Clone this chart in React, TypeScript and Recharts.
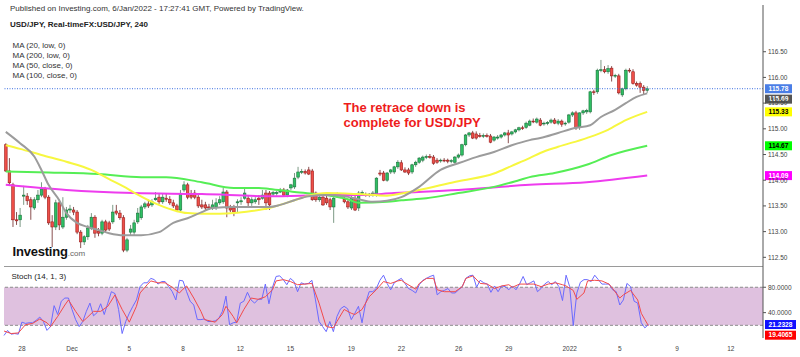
import {
  Bar,
  ComposedChart,
  Line,
  ReferenceArea,
  ReferenceLine,
  XAxis,
  YAxis
} from "recharts";

// USD/JPY 4H candles: open, high, low, close
type Candle = [number, number, number, number];

const candles: Candle[] = [
  [114.69, 114.72, 114.16, 114.18], [114.18, 114.43, 113.91, 113.95], [113.91, 113.95, 113.09, 113.23],
  [113.23, 113.38, 113.13, 113.21], [113.23, 113.46, 113.09, 113.32], [113.69, 113.89, 113.52, 113.71],
  [113.69, 113.75, 113.52, 113.60], [113.62, 113.67, 113.23, 113.48], [113.46, 113.67, 113.42, 113.62],
  [113.62, 113.81, 113.56, 113.71], [113.71, 113.96, 113.67, 113.83], [113.83, 113.87, 113.63, 113.67],
  [113.67, 113.71, 113.13, 113.17], [113.19, 113.32, 112.70, 113.09], [113.09, 113.62, 113.03, 113.56],
  [113.56, 113.62, 113.03, 113.13], [113.09, 113.67, 113.05, 113.28], [113.28, 113.48, 113.23, 113.42],
  [113.42, 113.52, 113.36, 113.44], [113.42, 113.48, 113.32, 113.38], [113.38, 113.42, 112.95, 112.99],
  [112.99, 113.03, 112.68, 112.80], [112.80, 112.93, 112.74, 112.90], [112.90, 113.13, 112.84, 113.07],
  [113.07, 113.36, 113.03, 113.28], [113.28, 113.32, 112.88, 112.97], [113.01, 113.07, 112.91, 112.97],
  [112.97, 113.23, 112.93, 113.19], [113.19, 113.23, 112.99, 113.03], [113.17, 113.21, 113.01, 113.05],
  [113.19, 113.52, 113.15, 113.38], [113.40, 113.52, 113.32, 113.36], [113.36, 113.42, 113.23, 113.27],
  [113.27, 113.32, 112.60, 112.64], [112.64, 112.88, 112.60, 112.84], [112.99, 113.13, 112.93, 113.05],
  [112.99, 113.23, 112.93, 113.17],
  [113.19, 113.46, 113.15, 113.36], [113.27, 113.52, 113.23, 113.48], [113.48, 113.58, 113.44, 113.54],
  [113.54, 113.62, 113.46, 113.50], [113.52, 113.63, 113.48, 113.58], [113.62, 113.77, 113.60, 113.65],
  [113.67, 113.75, 113.54, 113.58], [113.58, 113.75, 113.54, 113.67], [113.65, 113.75, 113.58, 113.63],
  [113.63, 113.69, 113.52, 113.56], [113.56, 113.62, 113.46, 113.50], [113.50, 113.54, 113.38, 113.42],
  [113.42, 113.81, 113.38, 113.73], [113.81, 113.98, 113.77, 113.91], [113.91, 113.95, 113.63, 113.67],
  [113.71, 113.81, 113.63, 113.67], [113.75, 113.81, 113.63, 113.67], [113.67, 113.71, 113.46, 113.50],
  [113.52, 113.62, 113.44, 113.48], [113.52, 113.58, 113.40, 113.46], [113.48, 113.54, 113.42, 113.46],
  [113.46, 113.62, 113.42, 113.52], [113.48, 113.65, 113.42, 113.56], [113.56, 113.69, 113.52, 113.62],
  [113.58, 113.85, 113.54, 113.77], [113.77, 113.81, 113.28, 113.46], [113.46, 113.52, 113.38, 113.42],
  [113.46, 113.52, 113.30, 113.38], [113.56, 113.63, 113.38, 113.58], [113.58, 113.67, 113.52, 113.60],
  [113.65, 113.85, 113.62, 113.75], [113.65, 113.71, 113.48, 113.56], [113.56, 113.67, 113.50, 113.62],
  [113.58, 113.67, 113.54, 113.62], [113.65, 113.71, 113.52, 113.62], [113.65, 113.81, 113.62, 113.71],
  [113.75, 113.81, 113.42, 113.56],
  [113.75, 113.79, 113.42, 113.52], [113.73, 113.79, 113.69, 113.76], [113.74, 113.79, 113.70, 113.76],
  [113.77, 113.85, 113.75, 113.81], [113.81, 113.85, 113.69, 113.71], [113.71, 113.83, 113.67, 113.81],
  [113.85, 113.93, 113.81, 113.91], [113.87, 114.14, 113.83, 114.04], [114.06, 114.26, 114.02, 114.16],
  [114.16, 114.22, 114.12, 114.17], [114.17, 114.21, 114.11, 114.14], [114.20, 114.26, 114.10, 114.12],
  [114.18, 114.22, 113.60, 113.62], [113.75, 113.78, 113.58, 113.62], [113.62, 113.71, 113.58, 113.67],
  [113.67, 113.72, 113.50, 113.52], [113.65, 113.70, 113.52, 113.56], [113.62, 113.66, 113.42, 113.48],
  [113.48, 113.69, 113.17, 113.65], [113.71, 113.76, 113.66, 113.70], [113.70, 113.74, 113.65, 113.71],
  [113.63, 113.69, 113.55, 113.58], [113.58, 113.62, 113.44, 113.48], [113.46, 113.70, 113.42, 113.65],
  [113.65, 113.73, 113.40, 113.42], [113.46, 113.79, 113.40, 113.75], [113.75, 113.80, 113.71, 113.76],
  [113.72, 113.76, 113.68, 113.71], [113.71, 113.75, 113.67, 113.73], [113.71, 113.79, 113.68, 113.75],
  [113.71, 114.06, 113.68, 114.04], [114.14, 114.20, 114.08, 114.12], [114.14, 114.18, 113.98, 114.00],
  [114.00, 114.16, 113.97, 114.14], [114.16, 114.22, 114.12, 114.20], [114.16, 114.28, 114.12, 114.26],
  [114.26, 114.39, 114.22, 114.35], [114.34, 114.39, 114.18, 114.20], [114.20, 114.25, 114.14, 114.16],
  [114.20, 114.24, 114.10, 114.14], [114.16, 114.32, 114.12, 114.30], [114.30, 114.38, 114.26, 114.35],
  [114.35, 114.45, 114.32, 114.43], [114.39, 114.48, 114.35, 114.45], [114.45, 114.50, 114.41, 114.46],
  [114.46, 114.51, 114.42, 114.45], [114.45, 114.49, 114.30, 114.33], [114.39, 114.43, 114.32, 114.35],
  [114.38, 114.42, 114.34, 114.39], [114.39, 114.43, 114.35, 114.38], [114.39, 114.42, 114.33, 114.37],
  [114.37, 114.41, 114.33, 114.38], [114.35, 114.47, 114.32, 114.45], [114.45, 114.52, 114.42, 114.49],
  [114.49, 114.71, 114.46, 114.69], [114.69, 114.90, 114.66, 114.88], [114.88, 114.94, 114.84, 114.92],
  [114.92, 114.96, 114.80, 114.82], [114.90, 114.95, 114.79, 114.82], [114.87, 114.92, 114.83, 114.85],
  [114.86, 114.91, 114.82, 114.87], [114.87, 114.91, 114.83, 114.86], [114.86, 114.90, 114.72, 114.74],
  [114.78, 114.86, 114.75, 114.84], [114.82, 114.88, 114.79, 114.84], [114.84, 114.90, 114.81, 114.88],
  [114.88, 114.94, 114.85, 114.92], [114.92, 114.98, 114.72, 114.88], [114.90, 114.96, 114.87, 114.94],
  [114.94, 115.00, 114.91, 114.98], [114.98, 115.04, 114.95, 115.02], [115.02, 115.06, 114.98, 115.01],
  [115.03, 115.14, 115.00, 115.11],
  [115.07, 115.18, 115.05, 115.15], [115.15, 115.20, 115.11, 115.14], [115.13, 115.22, 115.10, 115.19],
  [115.17, 115.21, 115.05, 115.07], [115.10, 115.14, 115.06, 115.11], [115.11, 115.15, 115.07, 115.12],
  [115.13, 115.20, 115.10, 115.17], [115.17, 115.21, 115.09, 115.11], [115.11, 115.19, 115.07, 115.15],
  [115.15, 115.18, 115.04, 115.09], [115.10, 115.14, 115.06, 115.11], [115.13, 115.29, 115.10, 115.27],
  [115.27, 115.34, 115.23, 115.31], [115.31, 115.35, 114.98, 115.02], [115.04, 115.32, 114.98, 115.31],
  [115.31, 115.37, 115.27, 115.35], [115.33, 115.39, 115.29, 115.36], [115.33, 115.74, 115.30, 115.72],
  [115.72, 115.76, 115.66, 115.71], [115.72, 116.17, 115.68, 116.14], [116.14, 116.34, 116.10, 116.15],
  [116.15, 116.22, 116.08, 116.11], [116.11, 116.24, 116.07, 116.17], [116.18, 116.22, 115.92, 116.03],
  [116.03, 116.07, 115.99, 116.04], [116.03, 116.07, 115.67, 115.70], [115.66, 115.80, 115.62, 115.78],
  [115.78, 116.17, 115.75, 116.14], [116.14, 116.18, 116.09, 116.13], [116.11, 116.16, 115.86, 115.88],
  [115.88, 115.92, 115.82, 115.85], [115.88, 115.92, 115.70, 115.81], [115.81, 115.85, 115.66, 115.75],
  [115.75, 115.83, 115.70, 115.78]
];

// moving averages: [bar index, value]
const ma20Low: [number, number][] = [
  [0, 114.94], [4, 114.72], [8, 114.46], [10, 114.2], [12, 113.91], [15, 113.61], [17, 113.36],
  [20, 113.17], [23, 113.09], [26, 113.03], [29, 112.97], [33, 112.93], [38, 112.93], [43, 112.99],
  [47, 113.17], [51, 113.26], [55, 113.38], [58, 113.46], [64, 113.48], [69, 113.48], [74, 113.48],
  [77, 113.52], [81, 113.61], [85, 113.69], [90, 113.71], [95, 113.69], [99, 113.63], [103, 113.58],
  [107, 113.6], [111, 113.67], [116, 113.87], [122, 114.2], [127, 114.33], [132, 114.45], [137, 114.55],
  [142, 114.68], [147, 114.78], [150, 114.82], [155, 114.92], [160, 115.02], [164, 115.07],
  [167, 115.23], [171, 115.37], [174, 115.5], [177, 115.62], [180, 115.69]
];
const ma50Close: [number, number][] = [
  [0, 114.68], [4, 114.61], [10, 114.49], [17, 114.36], [24, 114.2], [29, 114.02], [33, 113.88],
  [36, 113.76], [41, 113.58], [47, 113.42], [51, 113.36], [55, 113.35], [60, 113.35], [64, 113.36],
  [69, 113.4], [74, 113.46], [81, 113.61], [85, 113.7], [90, 113.75], [99, 113.73], [107, 113.7],
  [111, 113.74], [118, 113.84], [127, 113.98], [137, 114.13], [142, 114.28], [147, 114.43],
  [150, 114.53], [155, 114.65], [163, 114.82], [169, 114.98], [174, 115.17], [180, 115.33]
];
const ma200Low: [number, number][] = [
  [0, 114.17], [12, 114.15], [26, 114.12], [38, 114.06], [45, 114.06], [55, 113.96], [64, 113.85],
  [71, 113.85], [74, 113.83], [81, 113.77], [90, 113.71], [96, 113.63], [99, 113.56], [107, 113.58],
  [111, 113.61], [118, 113.65], [127, 113.75], [137, 113.87], [144, 114.0], [147, 114.06],
  [154, 114.14], [163, 114.3], [170, 114.49], [180, 114.67]
];
const ma100Close: [number, number][] = [
  [0, 113.91], [17, 113.81], [36, 113.75], [55, 113.73], [74, 113.69], [91, 113.71], [99, 113.71],
  [109, 113.75], [127, 113.81], [147, 113.91], [163, 113.96], [180, 114.09]
];

// Stoch (14, 1, 3): %K per bar, %D as [bar index, value]
const stochK: number[] = [
  4, 12, 6, 7, 6, 25, 23, 24, 24, 28, 33, 26, 12, 18, 51, 37, 58, 63, 63, 45,
  29, 18, 26, 42, 55, 35, 40, 54, 37, 55, 73, 70, 45, 7, 26, 39, 50, 60, 81, 87,
  87, 94, 92, 85, 89, 89, 81, 73, 60, 91, 90, 73, 58, 52, 29, 29, 30, 26, 26, 27,
  31, 42, 66, 21, 24, 25, 55, 58, 72, 60, 55, 61, 61, 85, 54, 80, 97, 98, 92, 84,
  94, 89, 73, 87, 85, 86, 91, 60, 26, 18, 10, 26, 10, 34, 46, 50, 46, 29, 39, 50,
  24, 55, 73, 73, 78, 91, 99, 86, 76, 87, 91, 94, 86, 78, 75, 71, 84, 91, 94, 97,
  99, 68, 73, 75, 78, 71, 71, 76, 81, 94, 98, 99, 80, 91, 87, 85, 72, 82, 73, 82,
  81, 76, 82, 76, 85, 97, 84, 87, 90, 73, 78, 85, 89, 84, 89, 81, 59, 99, 81, 19.5,
  71, 88, 92, 92, 89, 99, 92, 85, 85, 85, 76, 73, 52, 60, 86, 81, 58, 55, 24, 16,
  21.2328
];
const stochD: [number, number][] = [
  [0, 11], [2, 7], [4, 8], [6, 21], [8, 23], [10, 30], [12, 24], [13, 18], [15, 34], [17, 52],
  [18, 60], [20, 42], [22, 26], [23, 31], [25, 42], [27, 42], [29, 50], [31, 68], [33, 45], [35, 25],
  [37, 50], [38, 71], [40, 84], [41, 90], [43, 87], [45, 87], [47, 80], [49, 71], [50, 77], [51, 82],
  [53, 63], [55, 42], [56, 29], [59, 25], [61, 37], [62, 50], [64, 34], [65, 24], [67, 45], [69, 63],
  [71, 61], [73, 65], [75, 76], [76, 90], [78, 92], [80, 89], [82, 84], [84, 85], [86, 86], [88, 55],
  [90, 18], [92, 16], [93, 26], [95, 45], [97, 39], [98, 37], [100, 45], [102, 65], [104, 76],
  [106, 89], [108, 86], [110, 90], [111, 91], [112, 87], [115, 77], [116, 86], [118, 94], [120, 94],
  [121, 76], [123, 73], [126, 73], [128, 81], [129, 94], [131, 98], [133, 86], [135, 85], [137, 78],
  [139, 82], [141, 84], [142, 80], [144, 85], [146, 85], [148, 85], [150, 81], [152, 85], [154, 87],
  [156, 84], [157, 82], [159, 75], [160, 61], [162, 71], [163, 90], [165, 91], [167, 90], [169, 85],
  [170, 78], [172, 63], [173, 68], [175, 75], [177, 60], [178, 39], [179, 29], [180, 19.4065]
];

const priceTicks = [112.5, 113, 113.5, 114, 114.5, 115, 115.5, 116, 116.5];
const stochTicks = [40, 80];
const dateTicks: [number, string][] = [
  [5, "28"], [19, "Dec"], [35, "5"], [50, "8"], [66, "12"], [80, "15"], [97, "19"],
  [111, "22"], [127, "26"], [141, "29"], [158, "2022"], [172, "5"], [188, "9"], [203, "12"]
];
const SLOTS = 213;

const FONT = "'Liberation Sans', Arial, sans-serif";

const toMap = (pts: [number, number][]) => new Map(pts.map(([i, v]) => [i, v]));
const m20 = toMap(ma20Low);
const m50 = toMap(ma50Close);
const m200 = toMap(ma200Low);
const m100 = toMap(ma100Close);
const dMap = toMap(stochD);
const dateLabel = new Map(dateTicks);

const rows = Array.from({ length: SLOTS }, (_, i) => {
  const c = candles[i];
  return {
    i,
    o: c ? c[0] : null,
    h: c ? c[1] : null,
    l: c ? c[2] : null,
    c: c ? c[3] : null,
    ma20: m20.get(i) ?? null,
    ma50: m50.get(i) ?? null,
    ma200: m200.get(i) ?? null,
    ma100: m100.get(i) ?? null
  };
});

const stochRows = Array.from({ length: SLOTS }, (_, i) => ({
  i,
  k: i < stochK.length ? stochK[i] : null,
  d: dMap.get(i) ?? null
}));

const lastClose = candles[candles.length - 1][3];
const last = (pts: [number, number][]) => pts[pts.length - 1][1];

function CandleShape(props: any) {
  const { x, y, width, height, payload } = props;
  if (!payload || payload.o == null) return null;
  const top = Math.min(y, y + height);
  const span = Math.abs(height);
  const k = span / (payload.h - payload.l);
  const yo = top + (payload.h - payload.o) * k;
  const yc = top + (payload.h - payload.c) * k;
  const up = payload.c >= payload.o;
  const cx = x + width / 2;
  const bw = 2.6;
  return (
    <g>
      <line x1={cx} x2={cx} y1={top} y2={top + span} stroke={up ? "#7d9a86" : "#8a5050"} strokeWidth={1} />
      <rect
        x={cx - bw / 2}
        y={Math.min(yo, yc)}
        width={bw}
        height={Math.max(Math.abs(yc - yo), 0.8)}
        fill={up ? "#2fbf63" : "#ee4f48"}
        stroke={up ? "#17713a" : "#9b1c1c"}
        strokeWidth={0.6}
      />
    </g>
  );
}

function Badge(props: any) {
  const { viewBox, text, bg, color, dy = 0, w = 27 } = props;
  if (!viewBox) return null;
  const bx = viewBox.x + viewBox.width + 2;
  const by = viewBox.y + dy;
  return (
    <g>
      <rect x={bx} y={by - 4.5} width={w} height={9} fill={bg} />
      <text x={bx + w / 2} y={by + 2.3} textAnchor="middle" fontSize={6.6} fontWeight="bold" fill={color} fontFamily={FONT}>
        {text}
      </text>
    </g>
  );
}

function AxisTick(props: any) {
  const { x, y, payload, digits } = props;
  return (
    <text x={x} y={y} dy={2.3} textAnchor="start" fontSize={6.5} fill="#444" fontFamily={FONT}>
      {Number(payload.value).toFixed(digits)}
    </text>
  );
}

function DateTick(props: any) {
  const { x, y, payload } = props;
  return (
    <text x={x} y={y} dy={5} textAnchor="middle" fontSize={6.5} fill="#444" fontFamily={FONT}>
      {dateLabel.get(payload.value)}
    </text>
  );
}

const abs = (top: number, left: number, extra: React.CSSProperties = {}): React.CSSProperties => ({
  position: "absolute",
  top,
  left,
  fontFamily: FONT,
  whiteSpace: "nowrap",
  ...extra
});

export default function App() {
  return (
    <div style={{ position: "absolute", top: 0, left: 0, width: 800, height: 357, background: "#fff", overflow: "hidden" }}>
      <div style={{ position: "absolute", top: 0, left: 0 }}>
        <ComposedChart width={800} height={266} data={rows} margin={{ top: 5, right: 0, bottom: 0, left: 4 }}>
          <XAxis dataKey="i" type="category" hide />
          <YAxis
            orientation="right"
            width={37}
            domain={[112.331, 117.409]}
            allowDataOverflow
            ticks={priceTicks}
            interval={0}
            axisLine={{ stroke: "#555" }}
            tickLine={{ stroke: "#555" }}
            tickSize={3}
            tickMargin={2}
            tick={<AxisTick digits={2} />}
          />
          <ReferenceLine y={lastClose} stroke="#3b6fe0" strokeDasharray="1 1.5" />
          <Bar dataKey={(r: any) => (r.h == null ? null : [r.l, r.h])} shape={<CandleShape />} isAnimationActive={false} />
          <Line dataKey="ma100" type="monotone" stroke="#ee3cee" strokeWidth={2} dot={false} connectNulls isAnimationActive={false} />
          <Line dataKey="ma200" type="monotone" stroke="#55ee55" strokeWidth={2} dot={false} connectNulls isAnimationActive={false} />
          <Line dataKey="ma50" type="monotone" stroke="#f7f740" strokeWidth={2} dot={false} connectNulls isAnimationActive={false} />
          <Line dataKey="ma20" type="monotone" stroke="#9c9c9c" strokeWidth={2} dot={false} connectNulls isAnimationActive={false} />
          <ReferenceLine y={last(ma100Close)} stroke="none" label={<Badge text={last(ma100Close).toFixed(2)} bg="#ff00ff" color="#fff" />} />
          <ReferenceLine y={last(ma200Low)} stroke="none" label={<Badge text={last(ma200Low).toFixed(2)} bg="#00ff00" color="#000" />} />
          <ReferenceLine y={last(ma50Close)} stroke="none" label={<Badge text={last(ma50Close).toFixed(2)} bg="#ffff00" color="#000" />} />
          <ReferenceLine y={last(ma20Low)} stroke="none" label={<Badge text={last(ma20Low).toFixed(2)} bg="#555" color="#fff" dy={5.8} />} />
          <ReferenceLine y={lastClose} stroke="none" label={<Badge text={lastClose.toFixed(2)} bg="#4a7ee6" color="#fff" />} />
        </ComposedChart>
      </div>

      <div style={{ position: "absolute", top: 266, left: 4, width: 759, height: 1, background: "#9a9a9a" }} />

      <div style={{ position: "absolute", top: 266, left: 0 }}>
        <ComposedChart width={800} height={91} data={stochRows} margin={{ top: 0, right: 0, bottom: 0, left: 4 }}>
          <XAxis
            dataKey="i"
            type="category"
            ticks={dateTicks.map((d) => d[0])}
            interval={0}
            axisLine={false}
            tickLine={false}
            height={19}
            tick={<DateTick />}
          />
          <YAxis
            orientation="right"
            width={37}
            domain={[0, 113.5]}
            allowDataOverflow
            ticks={stochTicks}
            interval={0}
            axisLine={{ stroke: "#555" }}
            tickLine={{ stroke: "#555" }}
            tickSize={3}
            tickMargin={2}
            tick={<AxisTick digits={4} />}
          />
          <ReferenceArea y1={20} y2={80} fill="#dfc1df" fillOpacity={1} stroke="none" />
          <ReferenceLine y={80} stroke="#8c8c8c" strokeDasharray="3 2" />
          <ReferenceLine y={20} stroke="#8c8c8c" strokeDasharray="3 2" />
          <Line dataKey="k" type="linear" stroke="#6a6aff" strokeWidth={1} dot={false} connectNulls isAnimationActive={false} />
          <Line dataKey="d" type="linear" stroke="#f24a4a" strokeWidth={1} dot={false} connectNulls isAnimationActive={false} />
          <ReferenceLine y={stochK[stochK.length - 1]} stroke="none" label={<Badge text={stochK[stochK.length - 1].toFixed(4)} bg="#1010ff" color="#fff" w={31} />} />
          <ReferenceLine y={last(stochD)} stroke="none" label={<Badge text={last(stochD).toFixed(4)} bg="#ff0000" color="#fff" w={31} dy={9.5} />} />
        </ComposedChart>
      </div>

      <div style={abs(4.4, 10, { fontSize: 8, lineHeight: "10px", color: "#333" })}>
        Published on Investing.com, 6/Jan/2022 - 17:27:41 GMT, Powered by TradingView.
      </div>
      <div style={abs(20.1, 10, { fontSize: 8, lineHeight: "10px", fontWeight: "bold", color: "#222" })}>
        USD/JPY, Real-timeFX:USD/JPY, 240
      </div>
      <div style={abs(40.6, 12.5, { fontSize: 8, lineHeight: "10.3px", color: "#333" })}>
        <div>MA (20, low, 0)</div>
        <div>MA (200, low, 0)</div>
        <div>MA (50, close, 0)</div>
        <div>MA (100, close, 0)</div>
      </div>
      <div style={abs(99.7, 343.5, { fontSize: 13, lineHeight: "15.4px", fontWeight: "bold", color: "#ee1c1c" })}>
        <div>The retrace down is</div>
        <div>complete for USD/JPY</div>
      </div>
      <div style={abs(244.5, 12.5, { fontSize: 13, lineHeight: "13px", fontWeight: "bold", color: "#111", letterSpacing: -0.2 })}>
        Investing<span style={{ fontSize: 8, fontWeight: "normal", color: "#666", letterSpacing: 0 }}>.com</span>
      </div>
      <div style={abs(271.8, 11.5, { fontSize: 8, lineHeight: "10px", color: "#222" })}>Stoch (14, 1, 3)</div>
    </div>
  );
}
